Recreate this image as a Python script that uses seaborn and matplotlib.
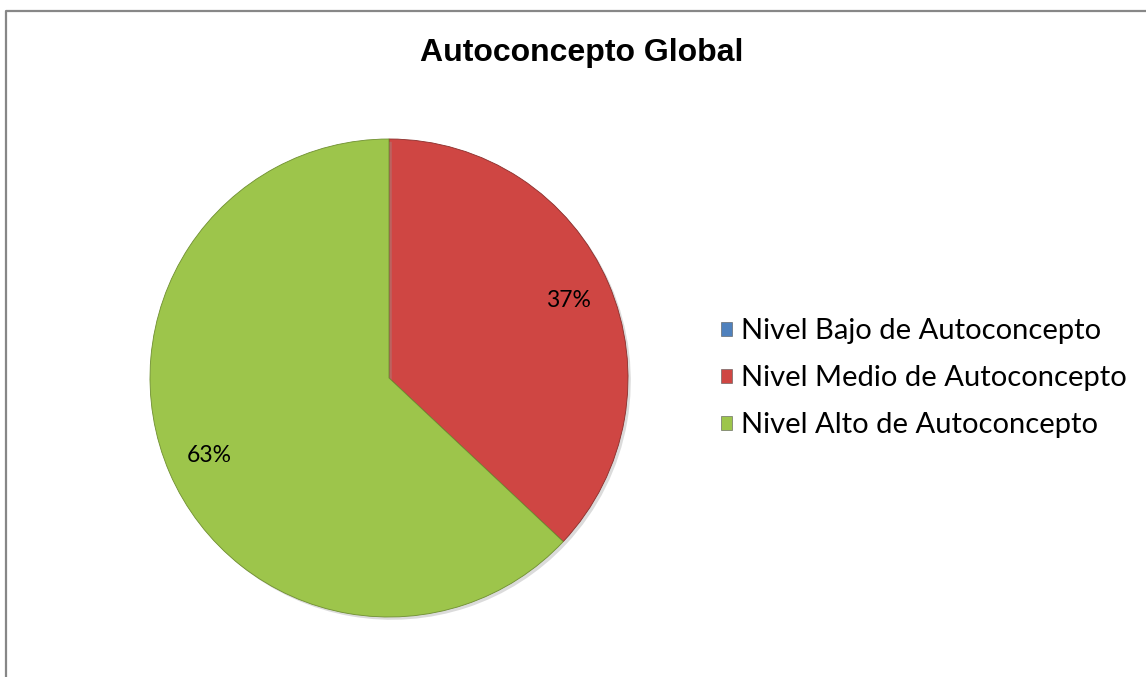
import matplotlib
matplotlib.use("Agg")
import matplotlib.pyplot as plt
import matplotlib.patheffects as pe
from matplotlib.lines import Line2D
from matplotlib.patches import Rectangle
import seaborn as sns

categories = ["Nivel Bajo de Autoconcepto", "Nivel Medio de Autoconcepto", "Nivel Alto de Autoconcepto"]
values = [0, 37, 63]
colors = ["#4F81BD", "#CF4643", "#9DC54B"]
title = "Autoconcepto Global"

sns.set_theme(style="white")
plt.rcParams["font.family"] = ["Lato", "DejaVu Sans"]

W, H = 1146, 677
fig = plt.figure(figsize=(W / 100, H / 100), dpi=100)
fig.patch.set_facecolor("white")

cx, cy, r = 389, 378, 239
ax = fig.add_axes([(cx - r) / W, (H - cy - r) / H, 2 * r / W, 2 * r / H])

wedges, texts, autotexts = ax.pie(
    values,
    colors=colors,
    startangle=90,
    counterclock=False,
    autopct=lambda p: f"{p:.0f}%" if p > 0.5 else "",
    pctdistance=0.82,
    wedgeprops=dict(edgecolor="#8a2e2b", linewidth=0.6),
    textprops=dict(fontsize=16.5, color="black"),
)
wedges[2].set_edgecolor("#6f8f30")
for w in wedges:
    w.set_path_effects([pe.SimplePatchShadow(offset=(2, -2), shadow_rgbFace="#999999", alpha=0.35),
                        pe.Normal()])
ax.set_xlim(-1, 1)
ax.set_ylim(-1, 1)
ax.set_aspect("equal")
ax.axis("off")

fig.text(582 / W, 1 - 53 / H, title, ha="center", va="center", color="black",
         fontsize=23, fontweight="bold", family=["Liberation Sans", "DejaVu Sans"])

handles = [Rectangle((0, 0), 1, 1, facecolor=c, edgecolor="#555555", linewidth=0.4) for c in colors]
fig.legend(handles, categories, loc="center left", bbox_to_anchor=(721 / W, 1 - 378 / H),
           frameon=False, fontsize=21, labelcolor="black", handlelength=0.36, handleheight=0.36,
           handletextpad=0.33, labelspacing=0.72, borderpad=0, borderaxespad=0)

border = Line2D([5.5 / W, 5.5 / W, 1.0], [0.0, 1 - 10.5 / H, 1 - 10.5 / H],
                transform=fig.transFigure, color="#878787", linewidth=1.6)
fig.add_artist(border)

fig.savefig("out.png", dpi=100, facecolor="white")
